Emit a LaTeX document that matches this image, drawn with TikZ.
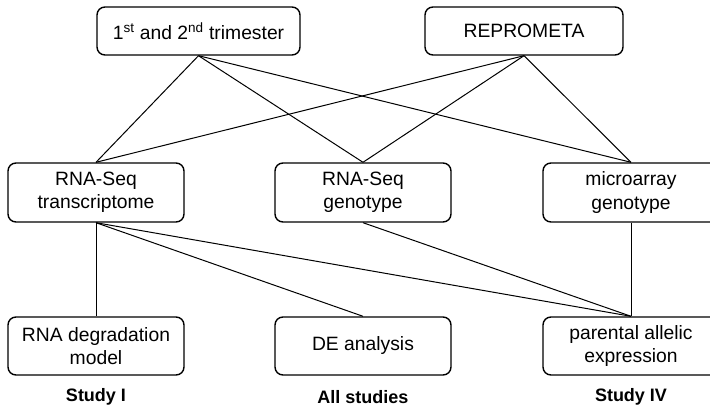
\documentclass[tikz,border=0pt]{standalone}
\usepackage{fontspec}
\setmainfont{Liberation Sans}
\begin{document}
\begin{tikzpicture}[x=1pt,y=-1pt,
  box/.style={draw,line width=1.4pt,rounded corners=8pt,align=center,inner sep=0pt,
    font=\fontsize{19.3}{23.5}\selectfont},
  midbox/.style={box,minimum width=176pt,minimum height=59pt},
  link/.style={line width=1pt},
  studylabel/.style={font=\fontsize{18}{20}\selectfont\bfseries,inner sep=0pt}]
\useasboundingbox (0,0) rectangle (710,409);
\clip (0,0) rectangle (710,409);
\node[box,minimum width=203pt,minimum height=48pt] (t1) at (198.5,31) {1\textsuperscript{st} and 2\textsuperscript{nd} trimester};
\node[box,minimum width=198pt,minimum height=48pt] (t2) at (524,31) {REPROMETA};
\node[midbox] (m1) at (96,192.5) {RNA-Seq\\transcriptome};
\node[midbox] (m2) at (363,192.5) {RNA-Seq\\genotype};
\node[midbox] (m3) at (631,192.5) {microarray\\genotype};
\node[midbox,minimum height=58pt] (b1) at (96,346) {RNA degradation\\model};
\node[midbox,minimum height=58pt] (b2) at (363,346) {DE analysis};
\node[midbox,minimum height=58pt] (b3) at (631,346) {parental allelic\\expression};
\node[studylabel] (s1) at (96,397) {Study I};
\node[studylabel] (s2) at (363,397) {All studies};
\node[studylabel] (s3) at (631,397) {Study IV};
\foreach \a in {t1,t2}{
  \foreach \b in {m1,m2,m3}{
    \draw[link] (\a.south) -- (\b.north);
  }
}
\foreach \b in {b1,b2,b3}{
  \draw[link] (m1.south) -- (\b.north);
}
\draw[link] (m2.south) -- (b3.north);
\draw[link] (m3.south) -- (b3.north);
\end{tikzpicture}
\end{document}
